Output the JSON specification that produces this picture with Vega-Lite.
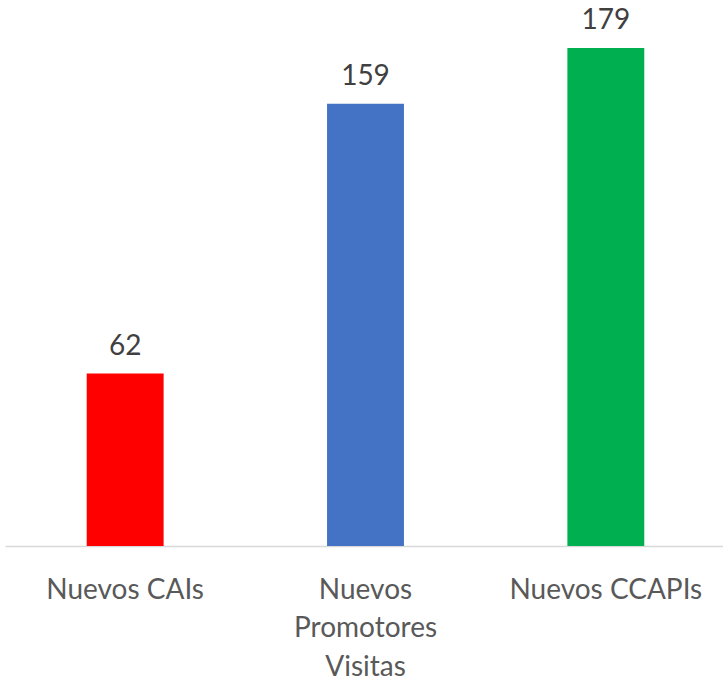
{
  "$schema": "https://vega.github.io/schema/vega-lite/v6.json",
  "autosize": {"type": "none"},
  "width": 721,
  "height": 546,
  "padding": {"left": 5, "top": 0, "right": 0, "bottom": 135},
  "background": "white",
  "config": {"view": {"stroke": null}, "font": "Lato"},
  "data": {
    "values": [
      {"category": "Nuevos CAIs", "value": 62, "color": "#FF0000"},
      {"category": "Nuevos Promotores Visitas", "value": 159, "color": "#4472C4"},
      {"category": "Nuevos CCAPIs", "value": 179, "color": "#00B050"}
    ]
  },
  "encoding": {
    "x": {
      "field": "category",
      "type": "nominal",
      "sort": null,
      "scale": {"paddingInner": 0.68, "paddingOuter": 0.34},
      "axis": {
        "title": null,
        "labelAngle": 0,
        "ticks": false,
        "domainColor": "#D9D9D9",
        "domainWidth": 1.5,
        "labelColor": "#595959",
        "labelFont": "Lato",
        "labelFontSize": 28,
        "labelLineHeight": 38.5,
        "labelPadding": 30,
        "labelLimit": 0,
        "labelExpr": "datum.value == 'Nuevos Promotores Visitas' ? ['Nuevos', 'Promotores', 'Visitas'] : datum.value"
      }
    },
    "y": {
      "field": "value",
      "type": "quantitative",
      "scale": {"domain": [0, 196.3], "nice": false, "zero": true},
      "axis": null
    }
  },
  "layer": [
    {
      "mark": {"type": "bar"},
      "encoding": {
        "color": {"field": "color", "type": "nominal", "scale": null, "legend": null}
      }
    },
    {
      "mark": {"type": "text", "baseline": "alphabetic", "dy": -19, "fontSize": 28, "font": "Lato", "color": "#404040"},
      "encoding": {"text": {"field": "value", "type": "quantitative"}}
    }
  ]
}
